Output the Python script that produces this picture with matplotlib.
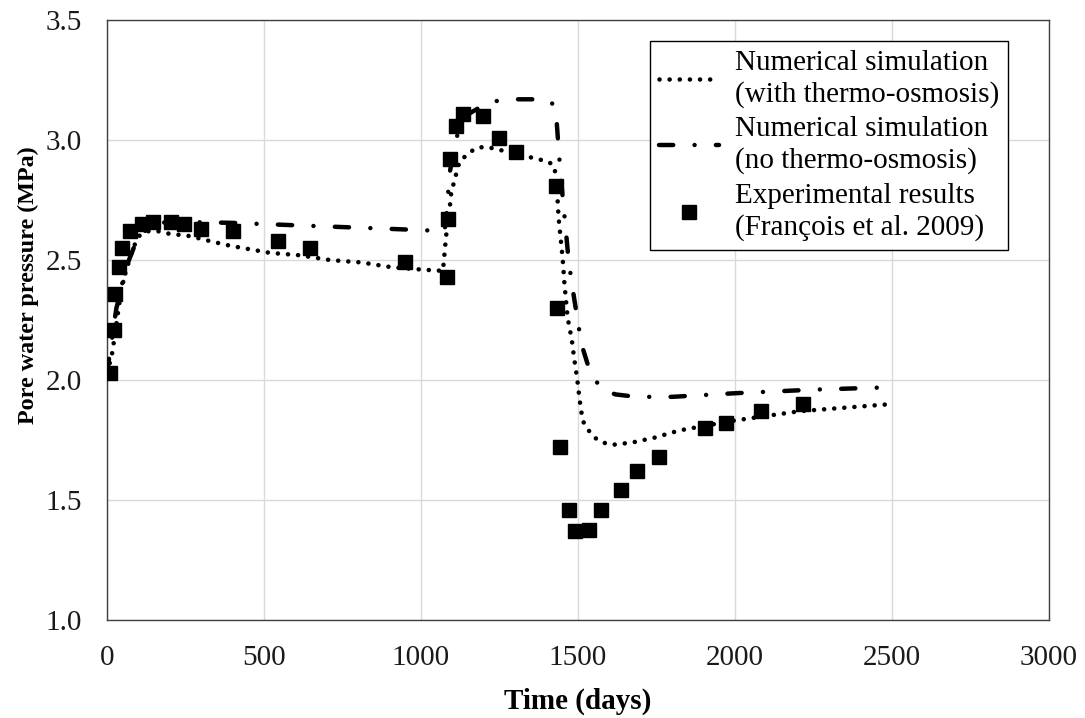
import matplotlib
matplotlib.use("Agg")
import matplotlib.pyplot as plt

# --- data ---
# Numerical simulation (with thermo-osmosis)
t_with = [0, 15, 22, 48, 83, 102, 127, 163, 197, 264, 325, 391, 519, 614, 710, 811,
          907, 1005, 1070, 1080, 1091, 1097, 1107, 1114, 1123, 1155, 1184, 1215, 1247,
          1280, 1343, 1406, 1425, 1433, 1438, 1444, 1451, 1457, 1467, 1480, 1489, 1498,
          1505, 1515, 1534, 1553, 1578, 1610, 1674, 1744, 1823, 1992, 2205, 2500]
p_with = [2.03, 2.10, 2.16, 2.40, 2.55, 2.60, 2.62, 2.62, 2.61, 2.60, 2.58, 2.56, 2.53,
          2.52, 2.50, 2.49, 2.47, 2.46, 2.455, 2.60, 2.71, 2.79, 2.83, 2.87, 2.91, 2.95,
          2.97, 2.97, 2.96, 2.95, 2.93, 2.91, 2.89, 2.80, 2.68, 2.60, 2.51, 2.40, 2.26,
          2.17, 2.08, 2.00, 1.92, 1.83, 1.79, 1.76, 1.74, 1.73, 1.74, 1.76, 1.79, 1.83,
          1.87, 1.90]

# Numerical simulation (no thermo-osmosis)
t_no = [0, 30, 70, 100, 150, 200, 400, 600, 800, 1000, 1075, 1082, 1091, 1110, 1140,
        1218, 1300, 1400, 1420, 1432, 1438, 1445, 1463, 1470, 1483, 1511, 1537, 1575,
        1620, 1686, 1800, 2000, 2250, 2500]
p_no = [2.03, 2.30, 2.50, 2.60, 2.65, 2.66, 2.655, 2.645, 2.635, 2.625, 2.62, 2.70,
        2.86, 3.00, 3.10, 3.16, 3.17, 3.17, 3.15, 3.08, 2.97, 2.85, 2.60, 2.50, 2.38,
        2.15, 2.04, 1.96, 1.94, 1.93, 1.93, 1.945, 1.96, 1.97]

# Experimental results (Francois et al. 2009)
t_exp = [10, 22, 25, 38, 48, 73, 111, 146, 204, 245, 299, 401, 544, 646, 948, 1082,
         1085, 1094, 1113, 1133, 1196, 1247, 1304, 1429, 1432, 1444, 1470, 1489, 1534,
         1572, 1638, 1687, 1757, 1903, 1972, 2084, 2218]
p_exp = [2.03, 2.21, 2.36, 2.47, 2.55, 2.62, 2.65, 2.66, 2.66, 2.65, 2.63, 2.62, 2.58,
         2.55, 2.49, 2.43, 2.67, 2.92, 3.06, 3.11, 3.10, 3.01, 2.95, 2.81, 2.30, 1.72,
         1.46, 1.37, 1.375, 1.46, 1.54, 1.62, 1.68, 1.80, 1.82, 1.87, 1.90]

labels = ["Numerical simulation\n(with thermo-osmosis)",
          "Numerical simulation\n(no thermo-osmosis)",
          "Experimental results\n(François et al. 2009)"]

plt.rcParams['font.family'] = ['Liberation Serif', 'DejaVu Serif']
fs = 21

fig = plt.figure(figsize=(10.85, 7.18), dpi=100)
ax = fig.add_axes([0.0986, 0.1365, 0.8682, 0.8355])

ax.plot(t_with, p_with, color='black', lw=3.3, linestyle=(0, (0.01, 2.2)),
        dash_capstyle='round', label=labels[0], zorder=3)
ax.plot(t_no, p_no, color='black', lw=3.2, linestyle=(0, (3.2, 4.8, 0.01, 4.8)),
        dash_capstyle='round', label=labels[1], zorder=3)
ax.plot(t_exp, p_exp, linestyle='none', marker='s', ms=9.5, color='black',
        label=labels[2], zorder=4)

ax.set_xlim(0, 3000)
ax.set_ylim(1.0, 3.5)
ax.set_xticks(range(0, 3001, 500))
ax.set_yticks([1.0, 1.5, 2.0, 2.5, 3.0, 3.5])
ax.set_yticklabels([f"{v:.1f}" for v in ax.get_yticks()])
ax.grid(True, color='#d9d9d9', lw=1)
ax.set_axisbelow(True)
ax.tick_params(length=0, labelsize=fs, colors='#1a1a1a')
ax.tick_params(axis='y', pad=18)
ax.tick_params(axis='x', pad=18)
for s in ax.spines.values():
    s.set_color('#404040')
    s.set_linewidth(1)

ax.set_xlabel("Time (days)", fontsize=fs, fontweight='bold')
ax.set_ylabel("Pore water pressure (MPa)", fontsize=17.4, fontweight='bold')
ax.xaxis.set_label_coords(0.5, -0.112)
ax.yaxis.set_label_coords(-0.072, 0.558)

leg = ax.legend(loc='upper right', bbox_to_anchor=(0.9565, 0.965), fontsize=fs,
                frameon=True, fancybox=False, edgecolor='black', framealpha=1,
                handlelength=2.05, handletextpad=0.55, labelspacing=0.3,
                borderpad=0.3, borderaxespad=0)
leg.get_frame().set_linewidth(1)
for t in leg.get_texts():
    t.set_linespacing(1.24)

fig.savefig("out.png", dpi=100)
